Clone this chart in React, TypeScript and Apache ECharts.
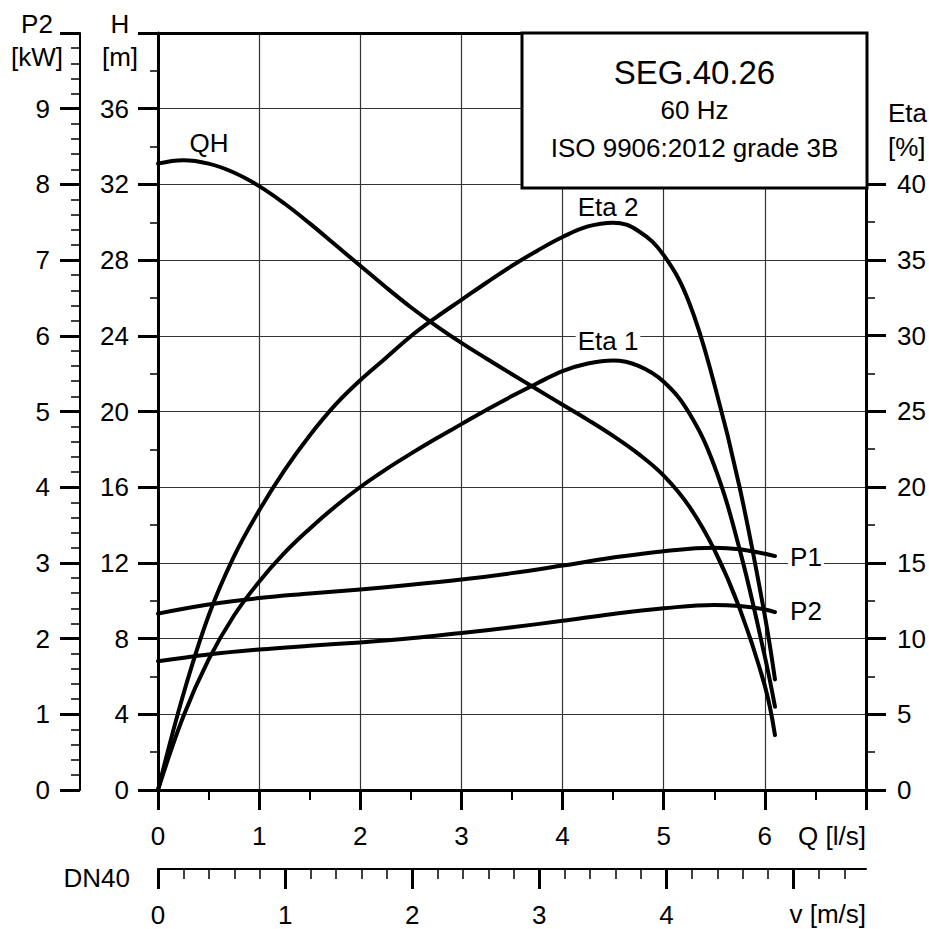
import React, { useEffect, useRef } from 'react';
import * as echarts from 'echarts';

const FONT = '"Liberation Sans", Arial, Helvetica, sans-serif';

// Flow rate samples Q [l/s] for H and Eta curves
const flowQ = [0, 0.25, 0.5, 0.75, 1, 1.25, 1.5, 1.75, 2, 2.25, 2.5, 2.75, 3, 3.25, 3.5, 3.75, 4, 4.25, 4.5, 4.75, 5, 5.25, 5.5, 5.75, 6, 6.1];
// Q-H curve [m]
const qhH = [33.1, 33.28, 33.1, 32.63, 31.91, 30.99, 29.94, 28.82, 27.7, 26.58, 25.51, 24.53, 23.63, 22.79, 21.97, 21.16, 20.36, 19.56, 18.71, 17.76, 16.61, 15.0, 12.7, 9.6, 5.5, 2.9];
// Efficiency curves [%]
const eta2 = [0, 6.3, 11.5, 15.4, 18.45, 21.1, 23.4, 25.4, 27.05, 28.5, 29.95, 31.2, 32.35, 33.5, 34.6, 35.6, 36.5, 37.2, 37.45, 36.9, 35.3, 32.2, 26.8, 20.0, 11.5, 7.3];
const eta1 = [0, 4.85, 8.6, 11.5, 13.75, 15.65, 17.25, 18.7, 20.0, 21.15, 22.2, 23.2, 24.15, 25.1, 26.0, 26.85, 27.65, 28.15, 28.35, 28.0, 26.95, 24.9, 21.4, 15.9, 8.8, 5.5];

// Power curves [kW]
const pQ = [0, 0.5, 1, 1.5, 2, 2.5, 3, 3.5, 4, 4.5, 5, 5.5, 5.75, 6, 6.1];
const p1 = [2.33, 2.45, 2.535, 2.595, 2.65, 2.71, 2.78, 2.865, 2.965, 3.07, 3.155, 3.2, 3.18, 3.12, 3.09];
const p2 = [1.7, 1.79, 1.855, 1.905, 1.95, 2.005, 2.075, 2.15, 2.235, 2.325, 2.4, 2.445, 2.43, 2.385, 2.35];

// Velocity axis (DN40)
const vMax = 5.57;
const vMajorTicks = [0, 1, 2, 3, 4, 5];
const vLabels = [0, 1, 2, 3, 4];
const vMinorTicks = [0.2, 0.4, 0.6, 0.8, 1.2, 1.4, 1.6, 1.8, 2.2, 2.4, 2.6, 2.8, 3.2, 3.4, 3.6, 3.8, 4.2, 4.4, 4.6, 4.8, 5.2, 5.4];

const zip = (xs: number[], ys: number[]) => xs.map((x, i) => [x, ys[i]]);

export default function App() {
  const ref = useRef<HTMLDivElement>(null);
  useEffect(() => {
    const chart = echarts.init(ref.current!, null, { renderer: 'svg' });
    const black = '#000';
    const label = (margin: number, extra: any = {}) => ({
      margin,
      fontSize: 26,
      color: black,
      fontFamily: FONT,
      ...extra,
    });
    const curve = (name: string, data: number[][], xi: number, yi: number) => ({
      name,
      type: 'line',
      xAxisIndex: xi,
      yAxisIndex: yi,
      data,
      smooth: 0.4,
      symbol: 'none',
      lineStyle: { color: black, width: 4, cap: 'round', join: 'round' },
      z: 5,
    });
    const txt = (text: string, x: number, y: number, size = 26, align = 'center', extra: any = {}) => ({
      type: 'text',
      x,
      y,
      z: 20,
      style: { text, fontSize: size, fontFamily: FONT, fill: black, align, verticalAlign: 'middle', ...extra },
    });

    const option: any = {
      animation: false,
      backgroundColor: '#fff',
      textStyle: { fontFamily: FONT },
      grid: [
        { left: 158, right: 63, top: 33, bottom: 139 },
        { left: 158, right: 63, top: 184, bottom: 139 },
        { left: 158, right: 63, top: 859, bottom: 60 },
      ],
      xAxis: [
        {
          gridIndex: 0, type: 'value', min: 0, max: 7, interval: 1, position: 'bottom',
          axisLine: { show: true, onZero: false, lineStyle: { color: black, width: 3 } },
          axisTick: { show: true, length: 20, lineStyle: { color: black, width: 3 } },
          minorTick: { show: true, splitNumber: 2, length: 10, lineStyle: { color: black, width: 2 } },
          axisLabel: label(33, { showMaxLabel: false }),
          splitLine: { show: true, lineStyle: { color: '#333', width: 1.2 } },
        },
        {
          gridIndex: 0, type: 'value', min: 0, max: 7, position: 'top',
          axisLine: { show: true, onZero: false, lineStyle: { color: black, width: 3 } },
          axisTick: { show: false }, axisLabel: { show: false }, splitLine: { show: false },
        },
        { gridIndex: 1, type: 'value', min: 0, max: 7, show: false },
        {
          gridIndex: 2, type: 'value', min: 0, max: vMax, interval: 1, position: 'bottom',
          axisLine: { show: true, onZero: false, lineStyle: { color: black, width: 2 } },
          axisTick: { show: true, length: 20, customValues: vMajorTicks, lineStyle: { color: black, width: 3 } },
          axisLabel: label(33, { customValues: vLabels }),
          splitLine: { show: false },
        },
        {
          gridIndex: 2, type: 'value', min: 0, max: vMax, interval: 1, position: 'bottom',
          axisLine: { show: false },
          axisTick: { show: true, length: 10, customValues: vMinorTicks, lineStyle: { color: black, width: 1.5 } },
          axisLabel: { show: false },
          splitLine: { show: false },
        },
      ],
      yAxis: [
        {
          gridIndex: 0, type: 'value', min: 0, max: 40, interval: 4, position: 'left',
          axisLine: { show: true, onZero: false, lineStyle: { color: black, width: 3 } },
          axisTick: { show: true, length: 20, lineStyle: { color: black, width: 3 } },
          minorTick: { show: true, splitNumber: 2, length: 8, lineStyle: { color: black, width: 1.5 } },
          axisLabel: label(29, { showMaxLabel: false }),
          splitLine: { show: true, lineStyle: { color: '#333', width: 1.2 } },
        },
        {
          gridIndex: 0, type: 'value', min: 0, max: 10, interval: 1, position: 'left', offset: 78,
          axisLine: { show: true, onZero: false, lineStyle: { color: black, width: 2 } },
          axisTick: { show: true, length: 20, lineStyle: { color: black, width: 3 } },
          minorTick: { show: true, splitNumber: 5, length: 9, lineStyle: { color: black, width: 1.5 } },
          axisLabel: label(30, { showMaxLabel: false }),
          splitLine: { show: false },
        },
        {
          gridIndex: 1, type: 'value', min: 0, max: 40, interval: 5, position: 'right',
          axisLine: { show: true, onZero: false, lineStyle: { color: black, width: 3 } },
          axisTick: { show: true, length: 20, lineStyle: { color: black, width: 3 } },
          minorTick: { show: true, splitNumber: 2, length: 9, lineStyle: { color: black, width: 1.5 } },
          axisLabel: label(31),
          splitLine: { show: false },
        },
        { gridIndex: 2, type: 'value', show: false },
      ],
      series: [
        curve('QH', zip(flowQ, qhH), 0, 0),
        curve('P1', zip(pQ, p1), 0, 1),
        curve('P2', zip(pQ, p2), 0, 1),
        curve('Eta 1', zip(flowQ, eta1), 2, 2),
        curve('Eta 2', zip(flowQ, eta2), 2, 2),
      ],
      graphic: [
        {
          type: 'rect', z: 10,
          shape: { x: 522, y: 33, width: 345, height: 155 },
          style: { fill: '#fff', stroke: black, lineWidth: 3 },
        },
        txt('SEG.40.26', 694.5, 72, 33),
        txt('60 Hz', 694.5, 110, 26),
        txt('ISO 9906:2012 grade 3B', 694.5, 148, 26),
        txt('P2', 37, 24),
        txt('[kW]', 37, 57),
        txt('H', 120, 24),
        txt('[m]', 120, 57),
        txt('Eta', 888, 113, 26, 'left'),
        txt('[%]', 888, 147, 26, 'left'),
        txt('Q [l/s]', 866, 836, 26, 'right'),
        txt('v [m/s]', 866, 914, 26, 'right'),
        txt('DN40', 130, 878, 26, 'right'),
        txt('QH', 209, 143),
        txt('Eta 2', 608, 207),
        txt('Eta 1', 608, 341, 26, 'center', { backgroundColor: '#fff', padding: [0, 2] }),
        txt('P1', 806, 557, 26, 'center', { backgroundColor: '#fff', padding: [0, 2] }),
        txt('P2', 806, 611, 26, 'center', { backgroundColor: '#fff', padding: [0, 2] }),
      ],
    };
    chart.setOption(option);
    return () => chart.dispose();
  }, []);
  return (
    <div
      ref={ref}
      style={{ position: 'fixed', left: 0, top: 0, width: 929, height: 929, background: '#fff' }}
    />
  );
}
